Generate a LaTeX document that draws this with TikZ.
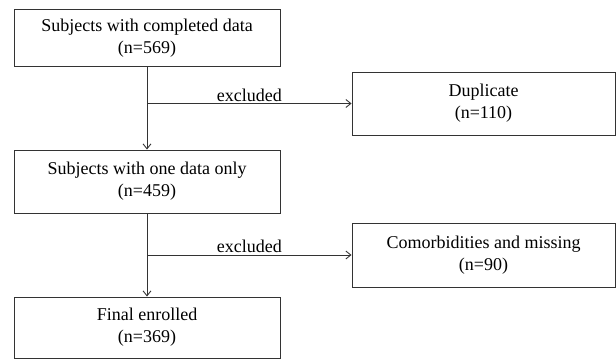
\documentclass[tikz,border=0pt]{standalone}
\usepackage{fontspec}
\setmainfont{Liberation Serif}
\usetikzlibrary{arrows.meta}
\begin{document}
\begin{tikzpicture}[x=1pt,y=-1pt,
  box/.style={draw=black!80,line width=0.9pt,inner sep=0pt,align=center,font=\fontsize{18}{22}\selectfont},
  conn/.style={draw=black!80,line width=0.9pt},
  arr/.style={conn,-{Straight Barb[length=5pt,width=8pt]}},
  lbl/.style={font=\fontsize{18}{20}\selectfont,above,inner sep=1.5pt}]
\useasboundingbox (0,0) rectangle (616,359);
\node[box,minimum width=266pt,minimum height=57pt] (b1) at (147,38) {Subjects with completed data\\(n=569)};
\node[box,minimum width=263pt,minimum height=63pt] (b2) at (483.5,103.5) {Duplicate\\(n=110)};
\node[box,minimum width=266pt,minimum height=63pt] (b3) at (147,181.5) {Subjects with one data only\\(n=459)};
\node[box,minimum width=263pt,minimum height=64pt] (b4) at (483.5,255) {Comorbidities and missing\\(n=90)};
\node[box,minimum width=266pt,minimum height=61pt] (b5) at (147,327.5) {Final enrolled\\(n=369)};
\coordinate (j1) at (b1.south |- b2.west);
\coordinate (j2) at (b3.south |- b4.west);
\draw[arr] (b1.south) -- (b3.north);
\draw[arr] (j1) -- node[lbl,pos=0.5] {excluded} (b2.west);
\draw[arr] (b3.south) -- (b5.north);
\draw[arr] (j2) -- node[lbl,pos=0.5] {excluded} (b4.west);
\end{tikzpicture}
\end{document}
